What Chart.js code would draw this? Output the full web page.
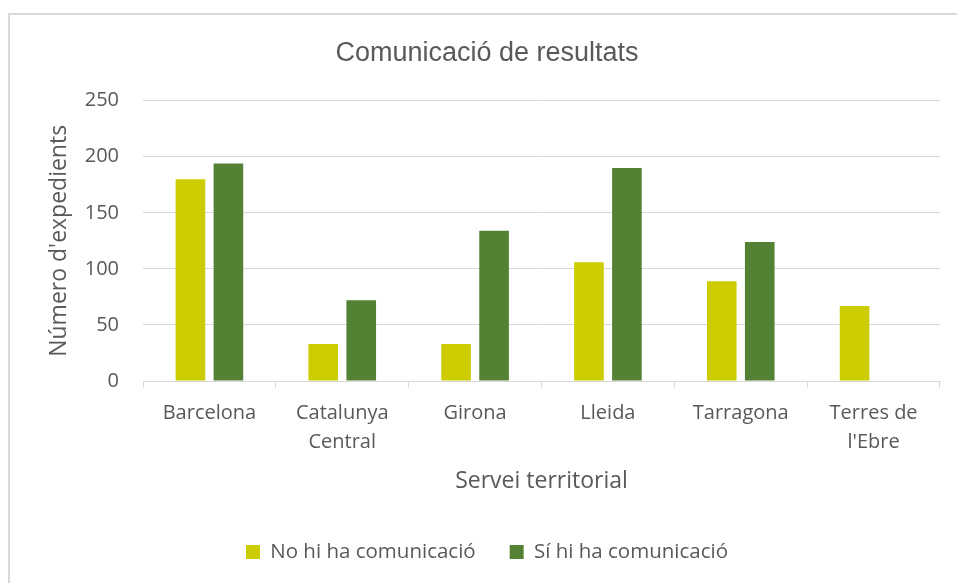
<!DOCTYPE html>
<html>
<head>
<meta charset="utf-8">
<script src="https://cdn.jsdelivr.net/npm/chart.js@4/dist/chart.umd.min.js"></script>
<style>
  html, body { margin: 0; padding: 0; background: #fff; overflow: hidden; width: 957px; height: 583px; }
  #frame { position: absolute; left: 8px; top: 13px; width: 1000px; height: 700px;
           border-left: 2px solid #d9d9d9; border-top: 2px solid #d9d9d9; }
  #chart { position: absolute; left: 0; top: 0; }
</style>
</head>
<body>
<div id="frame"><canvas id="chart" width="957" height="583"></canvas></div>
<script>
// Expedients per servei territorial, split by whether the result was communicated
const chartTitle = 'Comunicació de resultats';
const categories = ['Barcelona', ['Catalunya', 'Central'], 'Girona', 'Lleida', 'Tarragona', ['Terres de', "l'Ebre"]];
const seriesNames = ['No hi ha comunicació', 'Sí hi ha comunicació'];
const noComunicacio = [180, 33, 33, 106, 89, 67];
const siComunicacio = [194, 72, 134, 190, 124, 0];
const yTicks = [0, 50, 100, 150, 200, 250];
const xAxisTitle = 'Servei territorial';
const yAxisTitle = "Número d'expedients";

const TEXT = '#595959';
const GRID = '#d9d9d9';
Chart.defaults.font.family = "'Open Sans', sans-serif";
Chart.defaults.color = TEXT;

new Chart(document.getElementById('chart'), {
  type: 'bar',
  data: {
    labels: categories,
    datasets: [
      { label: seriesNames[0], data: noComunicacio, backgroundColor: '#cccc00' },
      { label: seriesNames[1], data: siComunicacio, backgroundColor: '#548235' }
    ]
  },
  options: {
    responsive: false,
    animation: false,
    devicePixelRatio: 1,
    categoryPercentage: 0.572,
    barPercentage: 0.78,
    layout: { padding: { left: 24, right: 27, top: 0, bottom: 25.75 } },
    plugins: {
      tooltip: { enabled: false },
      title: {
        display: true,
        text: chartTitle,
        color: TEXT,
        font: { family: "'Liberation Sans', Arial, sans-serif", size: 27, weight: 'normal', lineHeight: 1.2 },
        padding: { top: 22, bottom: 31.3 }
      },
      legend: {
        position: 'bottom',
        labels: {
          color: TEXT,
          boxWidth: 14,
          boxHeight: 14,
          padding: 34,
          font: { size: 20.5 }
        }
      }
    },
    scales: {
      x: {
        grid: { drawOnChartArea: false, drawTicks: true, tickLength: 7, color: GRID, lineWidth: 1 },
        border: { display: true, color: GRID, width: 1 },
        ticks: { color: TEXT, padding: 10.5, maxRotation: 0, autoSkip: false, font: { size: 20, lineHeight: 1.45 } },
        title: {
          display: true, text: xAxisTitle, color: TEXT,
          font: { size: 23, lineHeight: 1.2 },
          padding: { top: 10, bottom: 12.95 }
        },
        afterFit: s => { s.height = 126.75; }
      },
      y: {
        min: 0,
        max: 250,
        grid: { drawTicks: false, color: GRID, lineWidth: 1 },
        border: { display: false },
        ticks: { color: TEXT, padding: 24, font: { size: 20 } },
        afterBuildTicks: s => { s.ticks = yTicks.map(v => ({ value: v })); },
        title: {
          display: true, text: yAxisTitle, color: TEXT,
          font: { size: 23, lineHeight: 1.2 },
          padding: { top: 11.2, bottom: 0 }
        },
        afterFit: s => { s.width = 109; }
      }
    }
  }
});
</script>
</body>
</html>
